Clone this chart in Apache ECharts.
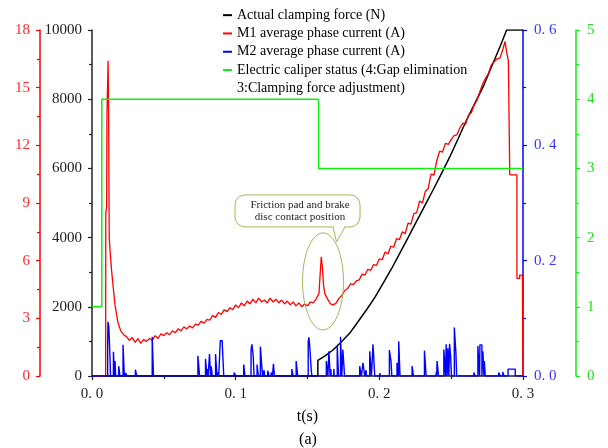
<!DOCTYPE html>
<html>
<head>
<meta charset="utf-8">
<script src="https://cdn.jsdelivr.net/npm/echarts@6/dist/echarts.min.js"></script>
<style>
  html, body { margin: 0; padding: 0; background: #fff; }
  #chart { width: 608px; height: 448px; }
</style>
</head>
<body>
<div id="chart"></div>
<script>
// ---- data: time in seconds ----

// Actual clamping force (N)
const clampForce = [
  [0, 0], [0.1572, 0], [0.1572, 450], [0.1625, 590], [0.1677, 751], [0.1735, 985],
  [0.1793, 1233], [0.185, 1560], [0.191, 1907], [0.197, 2280], [0.2026, 2679],
  [0.2085, 3100], [0.2142, 3546], [0.22, 4000], [0.2258, 4460], [0.2316, 4915],
  [0.2374, 5376], [0.2433, 5855], [0.2491, 6338], [0.255, 6870], [0.2607, 7399],
  [0.2665, 7880], [0.2723, 8361], [0.278, 8930], [0.284, 9517], [0.2886, 10000],
  [0.3, 10000]
];

// M1 average phase current (A)
const m1Current = [
  [0, 0], [0.0095, 0], [0.0096, 8.5], [0.0102, 8.8], [0.0104, 13.6], [0.0112, 16.4],
  [0.0116, 13.2], [0.012, 7.2], [0.0126, 6.5], [0.0135, 5.6], [0.0145, 4.8], [0.016, 3.7],
  [0.018, 2.8], [0.020, 2.35], [0.022, 2.15], [0.024, 2.05], [0.026, 1.85], [0.028, 2.0],
  [0.030, 1.75], [0.032, 1.95], [0.034, 1.7], [0.036, 1.9], [0.038, 1.8], [0.040, 1.95],
  [0.042, 1.85], [0.044, 2.1], [0.046, 1.95], [0.048, 2.2], [0.050, 2.1], [0.052, 2.25],
  [0.054, 2.15], [0.056, 2.35], [0.058, 2.25], [0.060, 2.45], [0.062, 2.35], [0.064, 2.55],
  [0.066, 2.45], [0.068, 2.6], [0.070, 2.5], [0.072, 2.7], [0.074, 2.65], [0.076, 2.85],
  [0.078, 2.75], [0.080, 2.95], [0.082, 2.9], [0.084, 3.15], [0.086, 3.05], [0.088, 3.3],
  [0.090, 3.2], [0.092, 3.45], [0.094, 3.35], [0.096, 3.55], [0.098, 3.45], [0.100, 3.7],
  [0.102, 3.55], [0.104, 3.8], [0.106, 3.65], [0.108, 3.9], [0.110, 3.75], [0.112, 4.0],
  [0.114, 3.8], [0.116, 4.05], [0.118, 3.85], [0.120, 3.95], [0.122, 3.8], [0.124, 4.05],
  [0.126, 3.85], [0.128, 4.0], [0.130, 3.8], [0.132, 3.95], [0.134, 3.75], [0.136, 3.9],
  [0.138, 3.7], [0.140, 3.85], [0.142, 3.65], [0.144, 3.8], [0.146, 3.6], [0.148, 3.75],
  [0.150, 3.65], [0.152, 3.85], [0.154, 3.8], [0.156, 4.0], [0.157, 3.95], [0.158, 4.3],
  [0.1588, 5.3], [0.1596, 6.2], [0.1604, 5.6], [0.1612, 4.7], [0.162, 4.3], [0.164, 4.0],
  [0.166, 3.75], [0.168, 3.7], [0.170, 3.8], [0.172, 4.05], [0.174, 4.2], [0.176, 4.45],
  [0.178, 4.55], [0.180, 4.8], [0.182, 4.75], [0.184, 4.95], [0.186, 5.0], [0.188, 5.3],
  [0.190, 5.25], [0.192, 5.55], [0.194, 5.5], [0.196, 5.8], [0.198, 5.75], [0.200, 6.1],
  [0.202, 6.05], [0.204, 6.45], [0.206, 6.35], [0.208, 6.75], [0.210, 6.7], [0.212, 7.15],
  [0.214, 7.1], [0.216, 7.5], [0.218, 7.4], [0.220, 7.95], [0.222, 7.9], [0.224, 8.45],
  [0.226, 8.5], [0.228, 9.1], [0.230, 9.0], [0.232, 9.6], [0.234, 9.75], [0.236, 10.5],
  [0.238, 10.45], [0.240, 11.2], [0.242, 11.7], [0.244, 11.65], [0.246, 12.1], [0.248, 12.05],
  [0.250, 12.3], [0.252, 12.5], [0.254, 12.55], [0.256, 12.9], [0.258, 13.15], [0.260, 13.1],
  [0.262, 13.55], [0.264, 13.7], [0.266, 14.1], [0.268, 14.35], [0.270, 14.8], [0.272, 15.2],
  [0.274, 15.5], [0.276, 15.75], [0.278, 16.2], [0.280, 16.35], [0.282, 16.5], [0.284, 16.55],
  [0.286, 17.0], [0.2875, 17.4], [0.2885, 16.9], [0.2898, 16.4], [0.2908, 16.4],
  [0.2908, 10.46], [0.2958, 10.46], [0.2958, 5.08], [0.2977, 5.08], [0.2977, 5.25],
  [0.2996, 5.25], [0.2999, 0]
];

// M2 average phase current (A): [start, end, level] of each burst
const m2Pulses = [
  [0.0109, 0.0111, 0.05], [0.0111, 0.0117, 0.094], [0.0117, 0.0122, 0.086], [0.0122, 0.0126, 0.055],
  [0.0126, 0.0129, 0.025], [0.0149, 0.0157, 0.042], [0.0160, 0.0165, 0.026], [0.0186, 0.0195, 0.017],
  [0.0216, 0.0225, 0.054], [0.0237, 0.0240, 0.005], [0.0302, 0.0312, 0.011], [0.0419, 0.0428, 0.068],
  [0.0460, 0.0463, 0.003], [0.0737, 0.0749, 0.035], [0.0790, 0.0800, 0.030], [0.0805, 0.0808, 0.012],
  [0.0818, 0.0825, 0.038], [0.0830, 0.0837, 0.017], [0.0860, 0.0870, 0.038], [0.0879, 0.0882, 0.006],
  [0.0893, 0.0907, 0.061], [0.0907, 0.0917, 0.055], [0.0935, 0.0938, 0.003], [0.0989, 0.1002, 0.006],
  [0.1056, 0.1065, 0.020], [0.1107, 0.1113, 0.045], [0.1113, 0.1122, 0.055], [0.1122, 0.1128, 0.035],
  [0.1149, 0.1158, 0.020], [0.1172, 0.1181, 0.051], [0.1181, 0.1188, 0.020], [0.1198, 0.1202, 0.010],
  [0.1223, 0.1233, 0.009], [0.1247, 0.1256, 0.006], [0.1263, 0.1270, 0.021], [0.1391, 0.1400, 0.012],
  [0.1421, 0.1432, 0.026], [0.1505, 0.1510, 0.060], [0.1510, 0.1518, 0.067], [0.1518, 0.1526, 0.043],
  [0.1526, 0.1531, 0.010], [0.1631, 0.1642, 0.026], [0.1649, 0.1658, 0.043], [0.1662, 0.1666, 0.012],
  [0.1683, 0.1687, 0.012], [0.1707, 0.1716, 0.052], [0.1730, 0.1739, 0.068], [0.1746, 0.1758, 0.046],
  [0.1863, 0.1875, 0.017], [0.1886, 0.1898, 0.023], [0.1907, 0.1911, 0.010], [0.1933, 0.1945, 0.043],
  [0.1956, 0.1968, 0.055], [0.2003, 0.2007, 0.005], [0.2070, 0.2081, 0.045], [0.2081, 0.2087, 0.026],
  [0.2123, 0.2133, 0.023], [0.2135, 0.2144, 0.060], [0.2228, 0.2238, 0.017], [0.2314, 0.2326, 0.044],
  [0.2395, 0.2399, 0.006], [0.2402, 0.2412, 0.026], [0.2449, 0.2461, 0.046], [0.2465, 0.2472, 0.055],
  [0.2477, 0.2484, 0.048], [0.2489, 0.2496, 0.056], [0.2496, 0.2502, 0.035], [0.2522, 0.2533, 0.084],
  [0.2533, 0.2538, 0.040], [0.2658, 0.2667, 0.006], [0.2686, 0.2698, 0.052], [0.2700, 0.2714, 0.054],
  [0.2721, 0.2728, 0.043], [0.2731, 0.2737, 0.026], [0.2831, 0.2842, 0.006], [0.2859, 0.2868, 0.007],
  [0.2896, 0.2946, 0.012]
];

// Electric caliper status (state code)
const caliperStatus = [
  [0, 1], [0.0068, 1], [0.0068, 4], [0.1577, 4], [0.1577, 3], [0.3, 3]
];

const seriesNames = [
  'Actual clamping force (N)',
  'M1 average phase current (A)',
  'M2 average phase current (A)',
  'Electric caliper status (4:Gap elimination 3:Clamping force adjustment)'
];

// ---- build the stepped M2 trace from its bursts ----
function pulsesToSteps(pulses) {
  const pts = [[0, 0]];
  let lastEnd = null;
  pulses.forEach(([s, e, a]) => {
    if (lastEnd !== null && Math.abs(lastEnd - s) < 1e-9) {
      pts.pop();               // contiguous: step directly to the new level
    } else {
      pts.push([s, 0]);
    }
    pts.push([s, a], [e, a], [e, 0]);
    lastEnd = e;
  });
  pts.push([0.3, 0]);
  return pts;
}
const m2Steps = pulsesToSteps(m2Pulses);

// ---- styling helpers ----
const SERIF = '"Liberation Serif", "Times New Roman", serif';
const spaced = v => (Math.round(v * 10) / 10).toFixed(1).replace('.', '. ');

function yAxisFor(opts) {
  return {
    type: 'value',
    position: opts.position,
    offset: opts.offset,
    min: opts.min, max: opts.max, interval: opts.interval,
    axisLine: { show: true, onZero: false, lineStyle: { color: opts.color, width: 1.5 } },
    axisTick: { show: true, length: 4, lineStyle: { color: opts.color, width: 1.2 } },
    minorTick: { show: true, splitNumber: 2, length: 3, lineStyle: { color: opts.color, width: 1.2 } },
    axisLabel: {
      color: opts.labelColor, fontFamily: SERIF, fontSize: 15, margin: opts.margin,
      formatter: opts.formatter || (v => String(v)),
      showMinLabel: true, showMaxLabel: true
    },
    splitLine: { show: false }
  };
}

const chart = echarts.init(document.getElementById('chart'), null, { renderer: 'canvas' });

chart.setOption({
  animation: false,
  backgroundColor: '#fff',
  grid: { left: 92, right: 85, top: 30, bottom: 72, containLabel: false },
  legend: {
    orient: 'vertical', left: 223, top: 6, padding: 0, itemGap: 0,
    itemWidth: 9, itemHeight: 2, icon: 'rect', selectedMode: false,
    data: seriesNames,
    formatter: n => n.split(' 3:')[0],
    textStyle: { fontFamily: SERIF, fontSize: 14, color: '#000', lineHeight: 18.3 }
  },
  xAxis: {
    type: 'value', min: 0, max: 0.3, interval: 0.1,
    name: 't(s)', nameLocation: 'middle', nameGap: 33,
    nameTextStyle: { fontFamily: SERIF, fontSize: 16, color: '#000' },
    axisLine: { onZero: false, lineStyle: { color: '#222', width: 1.5 } },
    axisTick: { length: 4, lineStyle: { color: '#222', width: 1.2 } },
    minorTick: { show: true, splitNumber: 2, length: 3, lineStyle: { color: '#222', width: 1.2 } },
    axisLabel: { formatter: spaced, fontFamily: SERIF, fontSize: 15, color: '#222', margin: 11,
                 showMinLabel: true, showMaxLabel: true },
    splitLine: { show: false }
  },
  yAxis: [
    yAxisFor({ position: 'left', offset: 0, min: 0, max: 10000, interval: 2000,
               color: '#222', labelColor: '#222', margin: 10 }),
    yAxisFor({ position: 'left', offset: 52, min: 0, max: 18, interval: 3,
               color: '#ff0000', labelColor: '#ff2a2a', margin: 10 }),
    yAxisFor({ position: 'right', offset: 0, min: 0, max: 0.6, interval: 0.2,
               color: '#0000ff', labelColor: '#3535ff', margin: 11, formatter: spaced }),
    yAxisFor({ position: 'right', offset: 53, min: 0, max: 5, interval: 1,
               color: '#11ee11', labelColor: '#22dd22', margin: 11 })
  ],
  series: [
    { name: seriesNames[0], type: 'line', yAxisIndex: 0, data: clampForce, symbol: 'none',
      itemStyle: { color: '#000' }, lineStyle: { color: '#000', width: 1.5 } },
    { name: seriesNames[1], type: 'line', yAxisIndex: 1, data: m1Current, symbol: 'none',
      itemStyle: { color: '#ff0000' }, lineStyle: { color: '#ff0000', width: 1.3 } },
    { name: seriesNames[2], type: 'line', yAxisIndex: 2, data: m2Steps, symbol: 'none',
      itemStyle: { color: '#0000ff' }, lineStyle: { color: '#0000ff', width: 1.4 } },
    { name: seriesNames[3], type: 'line', yAxisIndex: 3, data: caliperStatus, symbol: 'none',
      itemStyle: { color: '#11ee11' }, lineStyle: { color: '#11ee11', width: 1.5 } }
  ]
});

// ---- annotation around the pad/disc contact spike ----
const c = chart.convertToPixel({ xAxisIndex: 0, yAxisIndex: 1 }, [0.1608, 4.92]);
const cx = c[0], cy = c[1];
const noteColor = '#9bbb59';

chart.setOption({
  graphic: [
    { type: 'text', x: 237, y: 6 + 4 * 18.3 + 9.15,
      style: { text: '3:Clamping force adjustment)', fontFamily: SERIF, fontSize: 14,
               fill: '#000', verticalAlign: 'middle' } },
    { type: 'text', x: 308, y: 440,
      style: { text: '(a)', fontFamily: SERIF, fontSize: 16, fill: '#000',
               align: 'center', verticalAlign: 'middle' } },
    { type: 'ellipse', shape: { cx: cx, cy: cy, rx: 20.5, ry: 48.5 },
      style: { fill: 'none', stroke: noteColor, lineWidth: 1 }, z: 100 },
    { type: 'rect', shape: { x: cx - 88, y: cy - 86.5, width: 125, height: 32, r: 10 },
      style: { fill: '#fff', stroke: noteColor, lineWidth: 1 }, z: 100 },
    { type: 'line', shape: { x1: cx + 10.5, y1: cy - 54.5, x2: cx + 21.5, y2: cy - 54.5 },
      style: { stroke: '#fff', lineWidth: 2 }, z: 101 },
    { type: 'polyline', shape: { points: [[cx + 10, cy - 54.5], [cx + 13.5, cy - 39.5], [cx + 22, cy - 54.5]] },
      style: { fill: 'none', stroke: noteColor, lineWidth: 1 }, z: 102 },
    { type: 'text', x: cx - 23, y: cy - 70.5, z: 103,
      style: { text: 'Friction pad and brake\ndisc contact position', fontFamily: SERIF,
               fontSize: 11, lineHeight: 12, fill: '#222', align: 'center', verticalAlign: 'middle' } }
  ]
});
</script>
</body>
</html>
